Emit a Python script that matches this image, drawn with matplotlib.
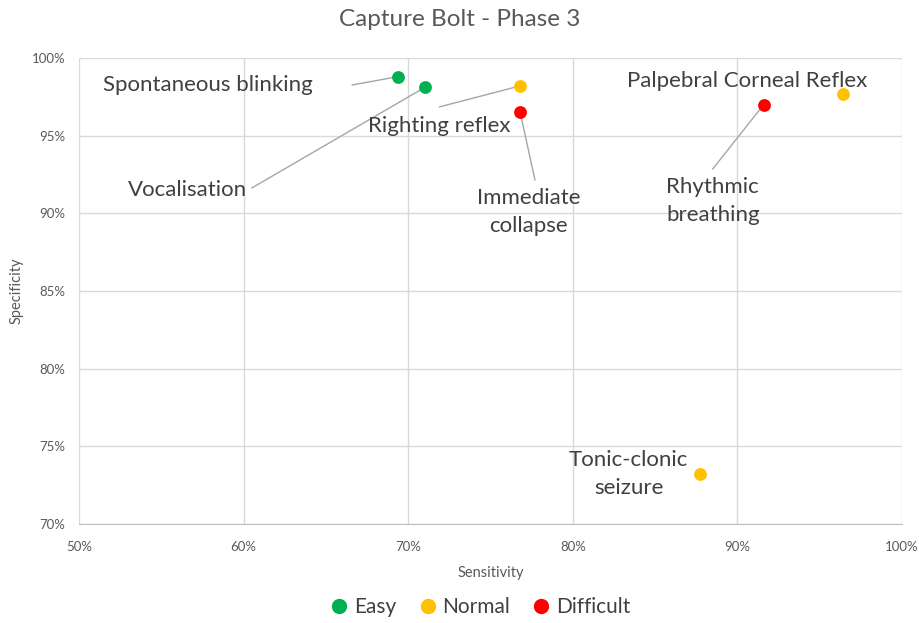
import matplotlib
matplotlib.use("Agg")
import matplotlib.pyplot as plt
from matplotlib.ticker import FuncFormatter
from matplotlib.lines import Line2D

plt.rcParams['font.family'] = ['Lato', 'DejaVu Sans']

# data (percent)
names = ["Spontaneous blinking", "Vocalisation", "Righting reflex", "Immediate\ncollapse",
         "Rhythmic\nbreathing", "Palpebral Corneal Reflex", "Tonic-clonic\nseizure"]
sensitivity = [69.4, 71.0, 76.8, 76.8, 91.6, 96.4, 87.7]
specificity = [98.8, 98.1, 98.2, 96.5, 97.0, 97.7, 73.2]
level = ["Easy", "Easy", "Normal", "Difficult", "Difficult", "Normal", "Normal"]

# label placement (data coords) and leader-line start (None = no leader)
label_xy = [(57.8, 98.26), (56.6, 91.5), (71.9, 95.6), (77.3, 90.1),
            (88.5, 90.8), (90.6, 98.5), (83.4, 73.2)]
leader_from = [(66.6, 98.26), (60.5, 91.63), (71.9, 96.85), (77.7, 92.15),
               (88.5, 92.85), None, None]

levels = ["Easy", "Normal", "Difficult"]
colors = {"Easy": "#00B050", "Normal": "#FFC000", "Difficult": "#FF0000"}

fig = plt.figure(figsize=(9.19, 6.23), dpi=100)
ax = fig.add_axes([0.086, 0.159, 0.8955, 0.748])

for i in range(len(names)):
    lf = leader_from[i]
    if lf is not None:
        ax.plot([lf[0], sensitivity[i]], [lf[1], specificity[i]], color="#A6A6A6", lw=1, zorder=2)

for lv in levels:
    xs = [sensitivity[i] for i in range(len(names)) if level[i] == lv]
    ys = [specificity[i] for i in range(len(names)) if level[i] == lv]
    ax.scatter(xs, ys, s=85, color=colors[lv], zorder=3, linewidths=0)

for i, n in enumerate(names):
    ax.text(label_xy[i][0], label_xy[i][1], n, ha="center", va="center",
            fontsize=16, color="#404040", linespacing=1.5, zorder=4)

ax.set_xlim(50, 100)
ax.set_ylim(70, 100)
ax.set_xticks(range(50, 101, 10))
ax.set_yticks(range(70, 101, 5))
pct = FuncFormatter(lambda v, p: "%d%%" % v)
ax.xaxis.set_major_formatter(pct)
ax.yaxis.set_major_formatter(pct)
ax.grid(True, color="#D9D9D9", lw=1)
ax.set_axisbelow(True)
for s in ["top", "right", "left"]:
    ax.spines[s].set_visible(False)
ax.spines["bottom"].set_color("#BFBFBF")
ax.tick_params(length=0, labelsize=9.5, colors="#595959")
ax.tick_params(axis="x", pad=12)
ax.tick_params(axis="y", pad=10)

ax.set_xlabel("Sensitivity", fontsize=10.5, color="#595959", labelpad=10)
ax.set_ylabel("Specificity", fontsize=10.5, color="#595959", labelpad=6)
fig.suptitle("Capture Bolt - Phase 3", fontsize=17.5, color="#595959", y=0.985)

handles = [Line2D([], [], marker="o", ls="", color=colors[lv], markersize=10) for lv in levels]
fig.legend(handles, levels, loc="center", bbox_to_anchor=(0.523, 0.025), ncol=3, frameon=False,
           fontsize=15, handlelength=0.8, handletextpad=0.3, columnspacing=1.1,
           labelcolor="#404040")

fig.savefig("out.png", dpi=100)
